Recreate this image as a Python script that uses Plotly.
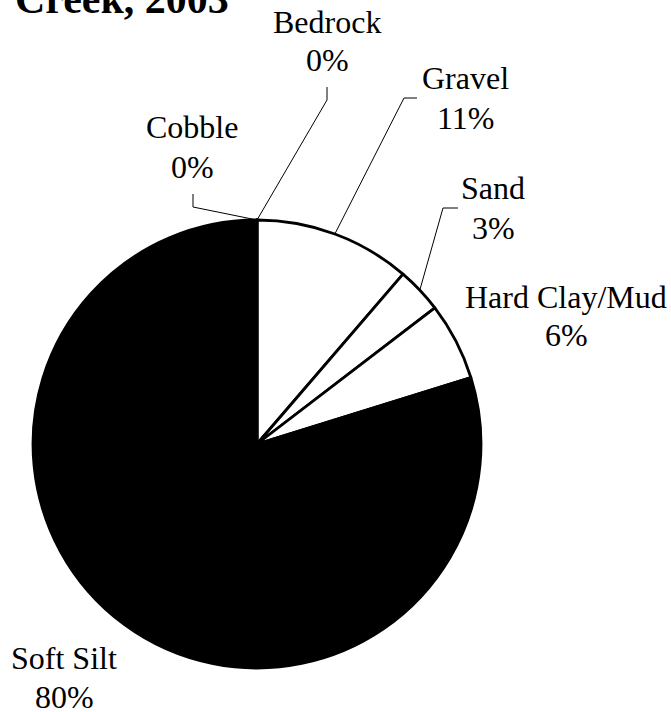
import math
import plotly.graph_objects as go

# ---- data ----
categories = ["Bedrock", "Gravel", "Sand", "Hard Clay/Mud", "Soft Silt", "Cobble"]
values = [0.0, 11.3, 3.3, 5.6, 79.8, 0.0]
colors = ["white", "white", "white", "white", "black", "white"]
title_text = "Creek, 2003"

# ---- layout config (pixels) ----
W, H = 671, 712
CX, CY, R = 257, 444, 224
FONT = "Liberation Serif"
FS = 32

# label: centre x, baseline of name line, baseline of percent line
label_pos = {
    "Bedrock": (327, 32, 70),
    "Gravel": (465, 88, 128),
    "Sand": (493, 198, 238),
    "Hard Clay/Mud": (566, 307, 345),
    "Soft Silt": (64, 668, 707),
    "Cobble": (192, 137, 177),
}
leaders = {
    "Bedrock": [(327, 100), (327, 87)],
    "Gravel": [(404, 98), (417, 98)],
    "Sand": [(443, 208), (458, 208)],
    "Cobble": [(193, 207), (193, 194)],
}
BASE_OFF = 10  # baseline offset below a middle-anchored line


def px(x, y):
    return x / W, 1 - y / H


fig = go.Figure(
    go.Pie(
        labels=categories,
        values=values,
        sort=False,
        direction="clockwise",
        rotation=0,
        marker=dict(colors=colors, line=dict(color="black", width=2.8)),
        textinfo="none",
        hoverinfo="label+percent",
        showlegend=False,
        domain=dict(x=[(CX - R) / W, (CX + R) / W],
                    y=[(H - CY - R) / H, (H - CY + R) / H]),
    )
)

total = sum(values)
annotations = []
shapes = []
cum = 0.0
for cat, v in zip(categories, values):
    mid = (cum + v / 2) / total * 2 * math.pi
    cum += v
    pct = round(v / total * 100)
    lx, b1, b2 = label_pos[cat]
    for txt, b in ((cat, b1), (f"{pct}%", b2)):
        X, Y = px(lx, b - BASE_OFF)
        annotations.append(dict(
            x=X, y=Y, xref="paper", yref="paper", xanchor="center", yanchor="middle",
            text=txt, showarrow=False, align="center",
            font=dict(family=FONT, size=FS, color="black"),
        ))
    if cat in leaders:
        sx = CX + R * math.sin(mid)
        sy = CY - R * math.cos(mid)
        pts = [(sx, sy)] + leaders[cat]
        path = ""
        for i, (x, y) in enumerate(pts):
            X, Y = px(x, y)
            path += ("M" if i == 0 else " L") + f" {X} {Y}"
        shapes.append(dict(type="path", path=path, xref="paper", yref="paper",
                           line=dict(color="black", width=1)))

tx, ty = px(13, 24)
annotations.append(dict(
    x=tx, y=ty, xref="paper", yref="paper", xanchor="left", yanchor="bottom",
    text=f"<b>{title_text}</b>", showarrow=False,
    font=dict(family=FONT, size=42, color="black"),
))

fig.update_layout(
    width=W, height=H,
    margin=dict(l=0, r=0, t=0, b=0),
    paper_bgcolor="white", plot_bgcolor="white",
    annotations=annotations, shapes=shapes,
)

fig.write_html("out.html", config={"displayModeBar": False},
               post_script="document.body.style.margin='0';document.body.style.overflow='hidden';")
